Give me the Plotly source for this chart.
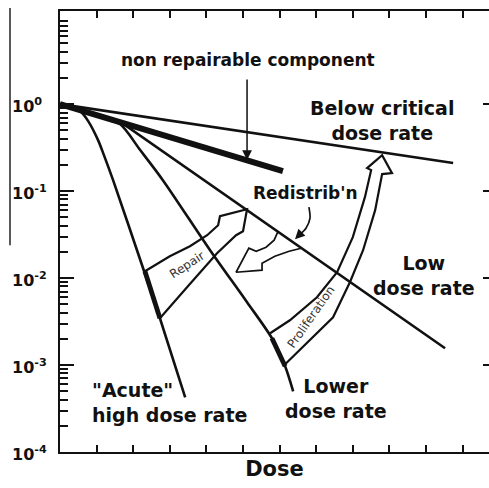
import numpy as np
import plotly.graph_objects as go

FONT = "DejaVu Sans"
INK = "#111111"

# ---- curves: dose (arbitrary units = tick spacing) vs surviving fraction ----
below_dose = [0, 10.74]
below_sf = [1.0, 0.21]

nonrep_dose = [0, 6.09]
nonrep_sf = [1.0, 0.17]

low_dose = [0, 1.78, 10.52]
low_sf = [1.0, 0.573, 0.00156]

lower_dose = [0, 0.96, 1.64, 2.19, 2.81, 4.10, 5.11, 5.79, 6.15, 6.37]
lower_sf = [1.0, 0.767, 0.589, 0.296, 0.1335, 0.0209, 0.00527, 0.00203, 0.000966, 0.000498]

acute_dose = [0, 0.33, 0.55, 0.77, 1.04, 1.20, 1.45, 2.27, 2.73, 3.42]
acute_sf = [1.0, 0.948, 0.831, 0.637, 0.385, 0.259, 0.1335, 0.01297, 0.003447, 0.000425]

acute_thick_dose = [2.32, 2.73]
acute_thick_sf = [0.01197, 0.003447]
lower_thick_dose = [5.79, 6.15]
lower_thick_sf = [0.00203, 0.000966]

# ---- hollow arrows (outlines) ----
repair_dose = [2.32, 3.0, 3.55, 4.02, 4.32, 4.37, 5.11, 5.0, 4.81, 4.29, 3.47, 2.73]
repair_sf = [0.01197, 0.01782, 0.02323, 0.03109, 0.04051, 0.05143, 0.06188,
             0.03456, 0.03109, 0.01929, 0.00784, 0.003447]

redist_dose = [5.96, 5.85, 5.63, 5.36, 5.16, 4.81, 5.52, 5.52, 5.87, 6.26, 6.59]
redist_sf = [0.03456, 0.02723, 0.02262, 0.02034, 0.02203, 0.01166, 0.0123,
             0.0148, 0.01782, 0.02034, 0.02203]

prolif_dose = [5.74, 6.28, 7.02, 7.57, 8.0, 8.33, 8.5, 8.39, 8.8, 9.07, 8.8,
               8.61, 8.28, 7.92, 7.46, 6.75, 6.15]
prolif_sf = [0.002317, 0.003268, 0.006013, 0.01166, 0.02948, 0.08508, 0.174,
             0.1835, 0.2588, 0.1607, 0.1565, 0.06027, 0.02089, 0.00895,
             0.003539, 0.001777, 0.001019]

pointer_dose = [6.80, 6.83, 6.72, 6.56]
pointer_sf = [0.06528, 0.04876, 0.03741, 0.03192]
pointer_tip = [6.42, 0.02796]
nonrep_tip = [5.11, 0.227]

# ---- labels ----
label_text = ["non repairable component", "Below critical<br>dose rate", "Redistrib'n",
              "Low<br>dose rate", "Lower<br>dose rate", "\"Acute\"<br>high dose rate"]
label_dose = [5.14, 8.80, 6.72, 9.95, 7.54, 0.82]
label_sf = [3.21, 0.654, 0.0946, 0.01077, 0.000408, 0.000367]
label_size = [17, 19, 17, 19, 19, 19]
label_anchor = ["center", "center", "center", "center", "center", "left"]

inner_text = ["Repair", "Proliferation"]
inner_dose = [3.47, 6.86]
inner_sf = [0.01403, 0.00354]
inner_angle = [-33, -55]

decades = [-4, -3, -2, -1, 0]
tick_text = ["10<sup>-4</sup>", "10<sup>-3</sup>", "10<sup>-2</sup>", "10<sup>-1</sup>", "10<sup>0</sup>"]
dose_ticks = list(range(1, 12))
minor_vals = [k * 10.0 ** d for d in range(-4, 1) for k in range(2, 10)]

fig = go.Figure()

def line(x, y, w=2.0, shape="linear"):
    fig.add_trace(go.Scatter(x=x, y=y, mode="lines", hoverinfo="skip", showlegend=False,
                             line=dict(color=INK, width=w, shape=shape, smoothing=0.8)))

line(below_dose, below_sf, 2.6)
line(nonrep_dose, nonrep_sf, 6)
line(low_dose, low_sf, 2.6)
line(lower_dose, lower_sf, 2.6, "spline")
line(acute_dose, acute_sf, 2.6, "spline")
line(acute_thick_dose, acute_thick_sf, 4.8)
line(lower_thick_dose, lower_thick_sf, 4.8)
line(repair_dose, repair_sf, 2.2)
line(redist_dose, redist_sf, 1.7)
line(prolif_dose, prolif_sf, 2.2)
line(pointer_dose, pointer_sf, 1.7, "spline")

# invisible trace for right axis
fig.add_trace(go.Scatter(x=[1], y=[0.01], yaxis="y2", mode="markers", opacity=0,
                         hoverinfo="skip", showlegend=False))

ann = []
for t, x, s, fs, a in zip(label_text, label_dose, label_sf, label_size, label_anchor):
    ann.append(dict(text="<b>" + t + "</b>", x=x, y=np.log10(s), xref="x", yref="y",
                    showarrow=False, xanchor=a, yanchor="middle", align=a,
                    font=dict(family=FONT, size=fs, color=INK)))
for t, x, s, ang in zip(inner_text, inner_dose, inner_sf, inner_angle):
    ann.append(dict(text=t, x=x, y=np.log10(s), xref="x", yref="y", showarrow=False,
                    textangle=ang, font=dict(family=FONT, size=12, color="#333333")))
for d, t in zip(decades, tick_text):
    ann.append(dict(text="<b>" + t + "</b>", x=-50 / 429, y=d, xref="paper", yref="y",
                    xanchor="left", yanchor="middle", showarrow=False, yshift=-1,
                    font=dict(family=FONT, size=16, color=INK)))
ann.append(dict(text="", x=nonrep_tip[0], y=np.log10(nonrep_tip[1]), xref="x", yref="y",
                showarrow=True, ax=0, ay=-82, arrowhead=2, arrowsize=1.3, arrowwidth=1.5,
                arrowcolor=INK))
ann.append(dict(text="", x=pointer_tip[0], y=np.log10(pointer_tip[1]), xref="x", yref="y",
                showarrow=True, ax=6, ay=-6, arrowhead=2, arrowsize=1.3, arrowwidth=1.5,
                arrowcolor=INK))

fig.update_layout(
    width=489, height=488,
    margin=dict(l=60, r=0, t=11, b=36),
    paper_bgcolor="white", plot_bgcolor="white",
    annotations=ann,
    shapes=[dict(type="line", xref="paper", yref="paper", x0=-50 / 429, x1=-50 / 429,
                 y0=0.469, y1=1.007, line=dict(color="#222222", width=1.5))],
    xaxis=dict(range=[0, 11.72], tickvals=dose_ticks, ticks="inside", ticklen=7,
               tickwidth=1.8, tickcolor=INK, showticklabels=False, showline=True,
               linewidth=2, linecolor=INK, mirror="ticks", showgrid=False, zeroline=False,
               title=dict(text="<b>Dose</b>", standoff=8,
                          font=dict(family=FONT, size=21, color=INK))),
    yaxis=dict(type="log", range=[-4, 1.07], tickvals=[10.0 ** d for d in decades],
               ticks="inside", ticklen=14, tickwidth=2, tickcolor=INK,
               showticklabels=False, showline=True, linewidth=2, linecolor=INK,
               showgrid=False, zeroline=False,
               minor=dict(tickmode="array", tickvals=minor_vals, ticks="inside",
                          ticklen=8, tickwidth=1.5, tickcolor=INK, showgrid=False)),
    yaxis2=dict(type="log", range=[-4, 1.07], overlaying="y", side="right",
                anchor="x", tickvals=[10.0 ** d for d in decades], ticks="inside",
                ticklen=6, tickwidth=2, tickcolor=INK, showticklabels=False,
                showline=False, showgrid=False, zeroline=False),
)

fig.write_html("out.html", config={"displayModeBar": False},
               post_script="document.body.style.margin='0';document.body.style.overflow='hidden';")
